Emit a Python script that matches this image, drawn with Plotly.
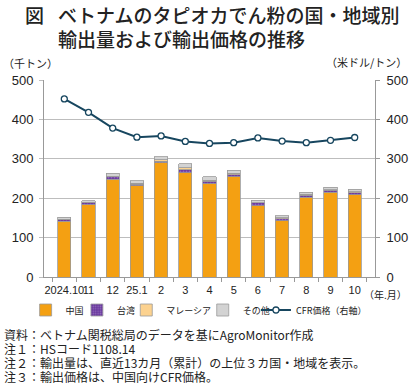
import plotly.graph_objects as go

months = ["2024.10", "11", "12", "25.1", "2", "3", "4", "5", "6", "7", "8", "9", "10"]
china = [142, 184, 248, 231, 290, 265, 237, 254, 181, 143, 203, 215, 209]
taiwan = [4, 5, 6, 5, 4, 7, 6, 6, 7, 5, 5, 5, 5]
malaysia = [1, 1, 2, 2, 3, 5, 3, 3, 1, 2, 2, 2, 3]
others = [5, 4, 7, 6, 8, 11, 8, 8, 6, 6, 5, 6, 6]
cfr_price = [452, 418, 378, 355, 358, 344, 339, 341, 353, 345, 341, 347, 354]
notes = [
    "資料：ベトナム関税総局のデータを基にAgroMonitor作成",
    "注１：HSコード1108.14",
    "注２：輸出量は、直近13カ月（累計）の上位３カ国・地域を表示。",
    "注３：輸出価格は、中国向けCFR価格。",
]

JP = "Noto Sans CJK JP"
NUM = "Arial, Liberation Sans, Noto Sans CJK JP"
edge = dict(color="#9A9A9A", width=0.8)

L, R, T, B = 43, 385, 80, 277
PW, PH = R - L, B - T


def px(x):
    return (x - L) / PW


def py(y):
    return (B - y) / PH


fig = go.Figure()
fig.add_trace(go.Bar(x=months, y=china, name="中国", legend="legend",
                     marker=dict(color="#F4A012", line=edge)))
fig.add_trace(go.Bar(x=months, y=taiwan, name="台湾", legend="legend2",
                     marker=dict(color="#6A3A9E", line=edge,
                                 pattern=dict(shape=".", fgcolor="#B59AD8", size=3, solidity=0.3))))
fig.add_trace(go.Bar(x=months, y=malaysia, name="マレーシア", legend="legend3",
                     marker=dict(color="#FCD28F", line=edge)))
fig.add_trace(go.Bar(x=months, y=others, name="その他", legend="legend4",
                     marker=dict(color="#D3D3D3", line=edge)))
fig.add_trace(go.Scatter(x=months, y=cfr_price, name="CFR価格（右軸）", yaxis="y2",
                         legend="legend5", mode="lines+markers",
                         line=dict(color="#17465F", width=2),
                         marker=dict(symbol="circle", size=6, color="white",
                                     line=dict(color="#17465F", width=1.3))))

leg_common = dict(orientation="h", yanchor="middle", xanchor="left",
                  font=dict(family=JP, size=9, color="#222"),
                  bgcolor="rgba(0,0,0,0)", borderwidth=0, itemwidth=30)
text_starts = [64, 117, 168, 247, 302]
legends = {}
for i, ts in enumerate(text_starts):
    key = "legend" if i == 0 else f"legend{i + 1}"
    legends[key] = dict(leg_common, x=px(ts - 40), y=py(310))

fig.update_layout(
    width=420, height=384,
    margin=dict(l=L, r=420 - R, t=T, b=384 - B),
    paper_bgcolor="white", plot_bgcolor="white",
    barmode="stack", bargap=0.45,
    font=dict(family=NUM, size=13, color="#222"),
    showlegend=True,
    xaxis=dict(type="category", tickson="boundaries", ticks="outside", ticklen=4,
               tickcolor="#999", showline=True, linecolor="#999", linewidth=1,
               showgrid=False, tickangle=0, tickfont=dict(family=NUM, size=11),
               ticklabelstandoff=3),
    yaxis=dict(range=[0, 500], dtick=100, showgrid=True, gridcolor="#BDBDBD", gridwidth=1,
               showline=True, linecolor="#999", linewidth=1, ticks="outside", ticklen=4,
               tickcolor="#BDBDBD", tickfont=dict(family=NUM, size=13), zeroline=False,
               ticklabelstandoff=3),
    yaxis2=dict(range=[0, 500], dtick=100, overlaying="y", side="right", showgrid=False,
                showline=True, linecolor="#999", linewidth=1, ticks="outside", ticklen=4,
                tickcolor="#999", tickfont=dict(family=NUM, size=13), zeroline=False,
                ticklabelstandoff=4),
    **legends,
)

ann = [
    dict(text="図", x=22, y=14, font=dict(family=JP, size=19, weight=500)),
    dict(text="ベトナムのタピオカでん粉の国・地域別", x=56, y=14, font=dict(family=JP, size=19, weight=500)),
    dict(text="輸出量および輸出価格の推移", x=56, y=39, font=dict(family=JP, size=19, weight=500)),
    dict(text="（千トン）", x=0, y=63, font=dict(family=JP, size=11)),
]
for i, n in enumerate(notes):
    ann.append(dict(text=n, x=1, y=334 + 14 * i, font=dict(family=JP, size=12)))
for a in ann:
    fig.add_annotation(text=a["text"], xref="paper", yref="paper",
                       x=px(a["x"]), y=py(a["y"]), align="left",
                       xanchor="left", yanchor="middle", showarrow=False, borderpad=0,
                       font=dict(color="#222", **a["font"]))
fig.add_annotation(text="（米ドル/トン）", xref="paper", yref="paper",
                   x=px(419), y=py(62), xanchor="right", yanchor="middle",
                   showarrow=False, borderpad=0, font=dict(family=JP, size=11, color="#222"))
fig.add_annotation(text="（年.月）", xref="paper", yref="paper",
                   x=px(419), y=py(294), xanchor="right", yanchor="middle",
                   showarrow=False, borderpad=0, font=dict(family=JP, size=10, color="#222"))

fig.write_html("out.html", config={"displayModeBar": False},
               post_script="document.body.style.margin='0';document.body.style.overflow='hidden';")
